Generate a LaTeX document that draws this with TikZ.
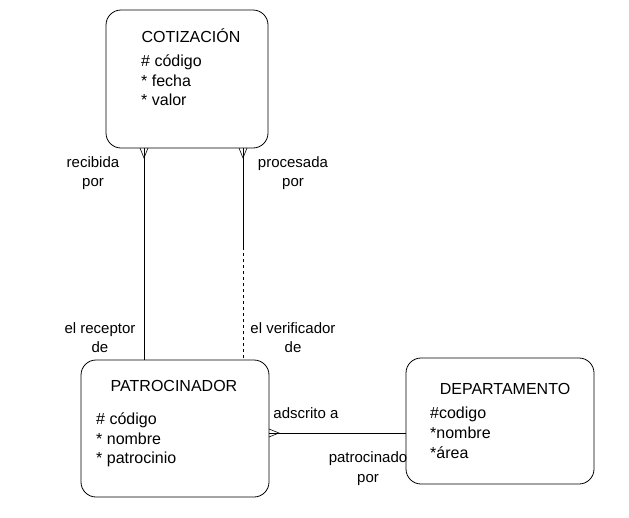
\documentclass[tikz,border=0pt]{standalone}
\usepackage{fontspec}
\setmainfont{Liberation Sans}
\begin{document}
\begin{tikzpicture}[x=1pt,y=-1pt,
  entidad/.style={draw,thick,rounded corners=15pt,inner sep=0pt},
  titulo/.style={font=\fontsize{16}{19}\selectfont,inner sep=0pt},
  atributos/.style={font=\fontsize{16}{19.5}\selectfont,align=left,anchor=north west,inner sep=0pt},
  rol/.style={font=\fontsize{15}{19.5}\selectfont,align=center,inner sep=0pt},
  relacion/.style={semithick}]
\useasboundingbox (0,0) rectangle (629,517);

% entidades
\node[entidad,minimum width=162pt,minimum height=138pt] (cot) at (187,79) {};
\node[entidad,minimum width=188pt,minimum height=137pt] (pat) at (175,428.5) {};
\node[entidad,minimum width=188pt,minimum height=126pt] (dep) at (500,421) {};

\node[titulo] (cotTit) at (191,36) {COTIZACIÓN};
\node[atributos] (cotAtr) at (141,55) {\# código\\* fecha\\* valor};

\node[titulo] (patTit) at (174,386) {PATROCINADOR};
\node[atributos] (patAtr) at (96,413) {\# código\\* nombre\\* patrocinio};

\node[titulo] (depTit) at (505,389) {DEPARTAMENTO};
\node[atributos,font=\fontsize{16}{20}\selectfont] (depAtr) at (430,407) {\#codigo\\*nombre\\*área};

% relaciones
\draw[relacion] (cot.south -| 144,0) -- (pat.north -| 144,0);
\draw[relacion] (140,148) -- (144,158) -- (148,148);
\coordinate (corte) at (243,247);
\draw[relacion] (cot.south -| 243,0) -- (corte);
\draw[relacion,dashed] (corte) -- (pat.north -| 243,0);
\draw[relacion] (239,148) -- (243,158) -- (247,148);
\draw[relacion] (pat.east |- 0,433) -- (dep.west |- 0,433);
\draw[relacion] (269,429) -- (279,433) -- (269,437);

% roles
\node[rol] (r1) at (93,173) {recibida\\por};
\node[rol] (r2) at (293,173) {procesada\\por};
\node[rol] (r3) at (100,337.5) {el receptor\\de};
\node[rol] (r4) at (293,337.5) {el verificador\\de};
\node[rol] (r5) at (306,413) {adscrito a};
\node[rol] (r6) at (368,468.5) {patrocinado\\por};
\end{tikzpicture}
\end{document}
